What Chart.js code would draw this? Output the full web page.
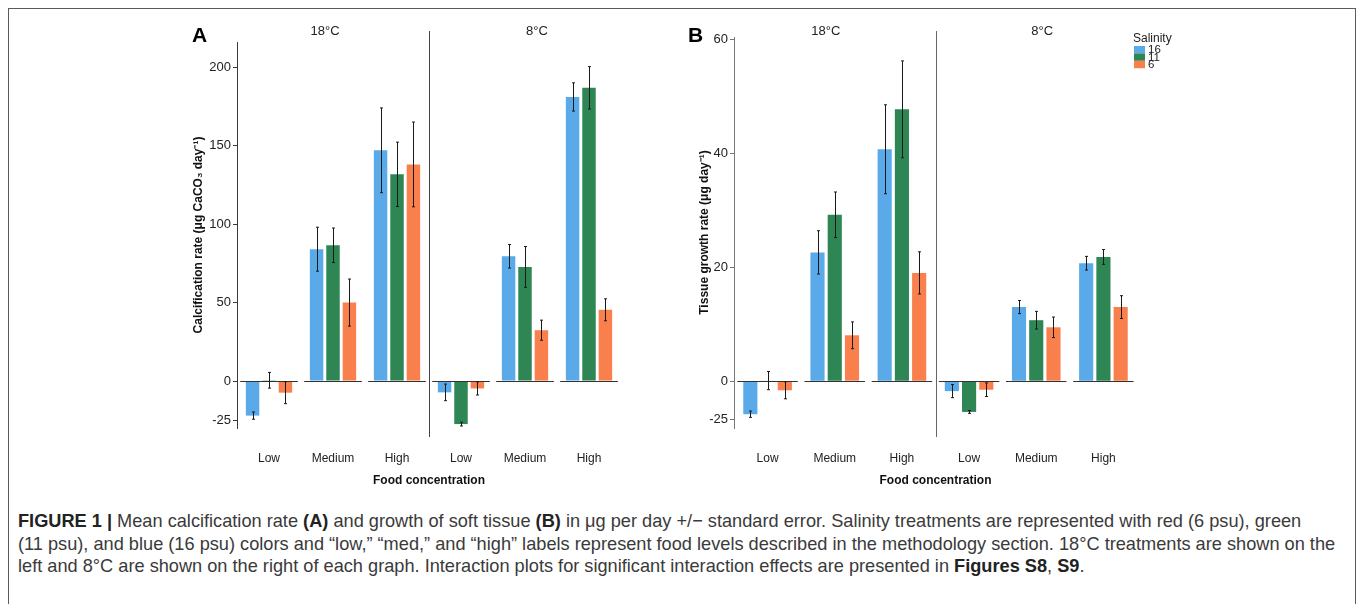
<!DOCTYPE html>
<html>
<head>
<meta charset="utf-8">
<script src="https://cdn.jsdelivr.net/npm/chart.js@4.4.1/dist/chart.umd.min.js"></script>
<style>
  html,body{margin:0;padding:0;background:#fff;width:1357px;height:604px;overflow:hidden;}
  #frame{position:absolute;left:8px;top:8px;width:1348px;height:640px;border:1.5px solid #5a5a5a;box-sizing:border-box;}
  canvas{position:absolute;top:0;}
  .panel{position:absolute;font-family:"Liberation Sans",Arial,sans-serif;font-weight:bold;font-size:21px;color:#000;}
  #caption{position:absolute;left:18px;top:510px;font-family:"Liberation Sans",Arial,sans-serif;font-size:18.2px;line-height:22.5px;color:#3a3a3a;white-space:nowrap;}
  #caption b{color:#222;}
</style>
</head>
<body>
<div id="frame"></div>
<canvas id="chartA" width="460" height="500" style="left:180px"></canvas>
<canvas id="chartB" width="520" height="500" style="left:680px"></canvas>
<div class="panel" style="left:192px;top:23px">A</div>
<div class="panel" style="left:688px;top:23px">B</div>
<div id="caption"><b>FIGURE 1 |</b> Mean calcification rate <b>(A)</b> and growth of soft tissue <b>(B)</b> in μg per day +/− standard error. Salinity treatments are represented with red (6 psu), green<br>(11 psu), and blue (16 psu) colors and “low,” “med,” and “high” labels represent food levels described in the methodology section. 18°C treatments are shown on the<br>left and 8°C are shown on the right of each graph. Interaction plots for significant interaction effects are presented in <b>Figures S8</b>, <b>S9</b>.</div>
<script>
// ---------- data ----------
const categories = ["Low", "Medium", "High", "Low", "Medium", "High"];
const temperatures = ["18°C", "8°C"];
const salinity = ["16", "11", "6"];

const calc16 = [-22, 84, 147, -7.2, 79.5, 181];
const calc11 = [0.5, 86.5, 131.7, -27.4, 72.7, 186.8];
const calc6  = [-7.4, 50, 138, -4.7, 32.4, 45.4];
const calcSe16 = [2.3, 14, 27, 5.3, 7.5, 9];
const calcSe11 = [5, 11, 20.5, 1.2, 13, 13.5];
const calcSe6  = [7, 15, 27, 4.2, 6.4, 7];

const growth16 = [-5.8, 22.6, 40.7, -1.75, 13.0, 20.7];
const growth11 = [0.1, 29.2, 47.7, -5.4, 10.7, 21.8];
const growth6  = [-1.6, 8.05, 19, -1.5, 9.45, 13.0];
const growthSe16 = [0.55, 3.8, 7.8, 1.15, 1.15, 1.2];
const growthSe11 = [1.6, 4, 8.5, 0.25, 1.55, 1.3];
const growthSe6  = [1.5, 2.35, 3.7, 1.2, 1.8, 2];

const calcTicks = [-25, 0, 50, 100, 150, 200];
const calcTickLabels = ["-25", "0", "50", "100", "150", "200"];
const growthTicks = [-6.65, 0, 20, 40, 60];
const growthTickLabels = ["-25", "0", "20", "40", "60"];

const colors = ["#5AAAE9", "#2E8654", "#F97F4D"];
const FONT = '"Liberation Sans", Arial, sans-serif';
const NARROW = '"Liberation Sans Narrow", "Liberation Sans", Arial, sans-serif';

// ---------- plugin: baselines, error bars, divider, strips, legend ----------
const extras = {
  id: 'extras',
  afterDatasetsDraw(chart, args, opts) {
    const ctx = chart.ctx, xs = chart.scales.x, ys = chart.scales.y, area = chart.chartArea;
    const n = chart.data.labels.length;
    const cw = xs.width / n;
    ctx.save();
    // baselines per group
    const y0 = Math.round(ys.getPixelForValue(0)) + 0.5;
    ctx.strokeStyle = opts.baseColor; ctx.lineWidth = 1;
    for (let i = 0; i < n; i++) {
      const cx = xs.getPixelForValue(i);
      ctx.beginPath(); ctx.moveTo(cx - cw * 0.45, y0); ctx.lineTo(cx + cw * 0.45, y0); ctx.stroke();
    }
    // error bars
    ctx.strokeStyle = '#1a1a1a'; ctx.lineWidth = 1;
    chart.data.datasets.forEach((ds, di) => {
      const meta = chart.getDatasetMeta(di);
      meta.data.forEach((el, j) => {
        const v = ds.data[j], e = opts.errors[di][j];
        const x = Math.round(el.x) + 0.5;
        const t = ys.getPixelForValue(v + e), b = ys.getPixelForValue(v - e);
        ctx.beginPath();
        ctx.moveTo(x, t); ctx.lineTo(x, b);
        ctx.moveTo(x - 1.5, t); ctx.lineTo(x + 1.5, t);
        ctx.moveTo(x - 1.5, b); ctx.lineTo(x + 1.5, b);
        ctx.stroke();
      });
    });
    // divider between temperatures
    const dx = Math.round((xs.getPixelForValue(2) + xs.getPixelForValue(3)) / 2) + 0.5;
    ctx.strokeStyle = opts.dividerColor;
    ctx.beginPath(); ctx.moveTo(dx, opts.dividerTop); ctx.lineTo(dx, area.bottom + 9); ctx.stroke();
    // strip labels
    ctx.fillStyle = '#222'; ctx.font = '13px ' + FONT;
    ctx.textAlign = 'center'; ctx.textBaseline = 'middle';
    ctx.fillText(temperatures[0], xs.getPixelForValue(1) + opts.stripShift[0], opts.stripY);
    ctx.fillText(temperatures[1], xs.getPixelForValue(4) + opts.stripShift[1], opts.stripY);
    // legend
    if (opts.legend) {
      const L = opts.legend;
      ctx.textAlign = 'left'; ctx.font = '12px ' + FONT; ctx.fillStyle = '#222';
      ctx.fillText('Salinity', L.x, L.y);
      ctx.font = '11.5px ' + FONT;
      chart.data.datasets.forEach((ds, di) => {
        const sy = L.y + 7 + di * L.h;
        ctx.fillStyle = ds.backgroundColor;
        ctx.fillRect(L.x + 1, sy, 11, L.h);
        ctx.fillStyle = '#222';
        ctx.fillText(ds.label, L.x + 15, sy + L.h / 2 + 0.5);
      });
    }
    ctx.restore();
  }
};

function makeChart(id, series, errors, ticks, tickLabels, yMin, yMax, cfg) {
  return new Chart(document.getElementById(id), {
    type: 'bar',
    data: {
      labels: categories,
      datasets: series.map((d, i) => ({
        label: salinity[i], data: d, backgroundColor: colors[i],
        borderWidth: 0, barPercentage: 0.82, categoryPercentage: 0.77
      }))
    },
    plugins: [extras],
    options: {
      responsive: false, animation: false, events: [],
      layout: { padding: { top: cfg.top, right: cfg.right, left: 0, bottom: 0 } },
      plugins: {
        legend: { display: false }, tooltip: { enabled: false },
        extras: {
          errors: errors, baseColor: '#333', dividerColor: cfg.dividerColor,
          dividerTop: 31, stripY: 31, stripShift: cfg.stripShift, legend: cfg.legend
        }
      },
      scales: {
        x: {
          offset: true,
          grid: { display: false, drawTicks: false },
          border: { display: false },
          ticks: { padding: 23, color: '#222', font: { family: FONT, size: 12 }, maxRotation: 0, autoSkip: false },
          title: { display: true, text: 'Food concentration', color: '#111',
                   font: { family: FONT, size: 12, weight: 'bold' }, padding: { top: 0, bottom: 12 } },
          afterFit: s => { s.height = 72; }
        },
        y: {
          min: yMin, max: yMax,
          afterBuildTicks: s => { s.ticks = ticks.map(v => ({ value: v })); },
          grid: { display: true, drawOnChartArea: false, drawTicks: true, tickLength: 4, color: cfg.axisColor },
          border: { display: true, color: cfg.axisColor, width: 1 },
          ticks: { padding: 2, color: '#222', font: { family: NARROW, size: 13 },
                   callback: (v, i) => tickLabels[i] },
          title: { display: true, text: cfg.yTitle, color: '#111',
                   font: { family: FONT, size: 12, weight: 'bold' }, padding: { top: cfg.titlePad, bottom: 0 } },
          afterFit: s => { s.width = cfg.yWidth; }
        }
      }
    }
  });
}

makeChart('chartA', [calc16, calc11, calc6], [calcSe16, calcSe11, calcSe6],
  calcTicks, calcTickLabels, -29.9, 216,
  { top: 42, right: 19, yWidth: 57, titlePad: 11, axisColor: '#3a3a3a', dividerColor: '#444',
    stripShift: [-8, 12], yTitle: 'Calcification rate (μg CaCO₃ day⁻¹)' });

makeChart('chartB', [growth16, growth11, growth6], [growthSe16, growthSe11, growthSe6],
  growthTicks, growthTickLabels, -8.22, 60.4,
  { top: 37, right: 63, yWidth: 54, titlePad: 17, axisColor: '#777', dividerColor: '#666',
    stripShift: [-9, 6], yTitle: 'Tissue growth rate (μg day⁻¹)',
    legend: { x: 453, y: 39, h: 7.4 } });
</script>
</body>
</html>
